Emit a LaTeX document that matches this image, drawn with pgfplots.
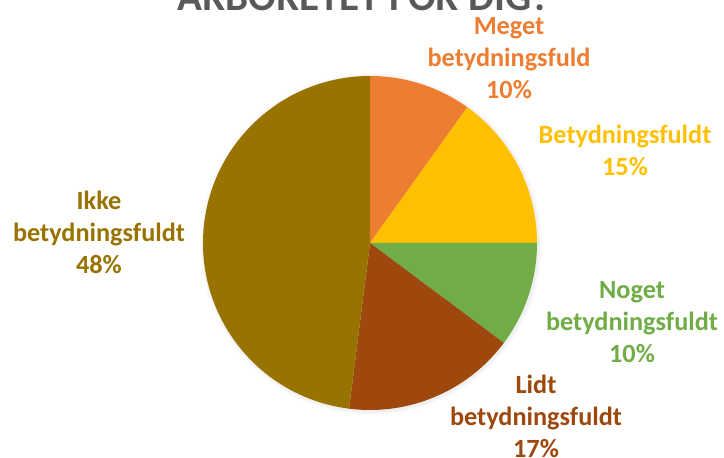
\documentclass[border=0pt]{standalone}
\usepackage{pgfplots}
\usepackage{pgfplotstable}
\pgfplotsset{compat=1.18}
\usepackage{fontspec}
\setmainfont{Carlito}
\definecolor{cA}{HTML}{ED7D31}
\definecolor{cB}{HTML}{FFC000}
\definecolor{cC}{HTML}{70AD47}
\definecolor{cD}{HTML}{9E480E}
\definecolor{cE}{HTML}{997300}
\definecolor{ttl}{HTML}{595959}
\pgfplotstableread{
label value
Meget 9.9
Betydningsfuldt 15.1
Noget 10.2
Lidt 16.8
Ikke 48.0
}\piedata
\pgfplotstablegetelem{0}{value}\of\piedata \let\vA\pgfplotsretval
\pgfplotstablegetelem{1}{value}\of\piedata \let\vB\pgfplotsretval
\pgfplotstablegetelem{2}{value}\of\piedata \let\vC\pgfplotsretval
\pgfplotstablegetelem{3}{value}\of\piedata \let\vD\pgfplotsretval
\pgfplotstablegetelem{4}{value}\of\piedata \let\vE\pgfplotsretval
\pgfmathsetmacro\aA{90-3.6*\vA}
\pgfmathsetmacro\aB{\aA-3.6*\vB}
\pgfmathsetmacro\aC{\aB-3.6*\vC}
\pgfmathsetmacro\aD{\aC-3.6*\vD}
\pgfmathsetmacro\aE{\aD-3.6*\vE}
\def\R{125.25pt}
\begin{document}
\begin{tikzpicture}
\begin{axis}[x=0.75pt, y=0.75pt, xmin=0, xmax=724, ymin=0, ymax=457,
  hide axis, clip=false, anchor=origin, at={(0,0)}]
\fill[white] (axis cs:0,0) rectangle (axis cs:724,457);
\fill[black, opacity=0.025] (axis cs:371,213) circle[radius=128pt];
\fill[black, opacity=0.035] (axis cs:371,213) circle[radius=126.5pt];
\fill[cA] (axis cs:370,214) -- ++(90:\R) arc[start angle=90, end angle=\aA, radius=\R] -- cycle;
\fill[cB] (axis cs:370,214) -- ++(\aA:\R) arc[start angle=\aA, end angle=\aB, radius=\R] -- cycle;
\fill[cC] (axis cs:370,214) -- ++(\aB:\R) arc[start angle=\aB, end angle=\aC, radius=\R] -- cycle;
\fill[cD] (axis cs:370,214) -- ++(\aC:\R) arc[start angle=\aC, end angle=\aD, radius=\R] -- cycle;
\fill[cE] (axis cs:370,214) -- ++(\aD:\R) arc[start angle=\aD, end angle=\aE, radius=\R] -- cycle;
\node[anchor=base, text=ttl, font=\bfseries\fontsize{30.8}{36}\selectfont] at (axis cs:364,446) {ARBORETET FOR DIG?};
\tikzset{lbl/.style={align=center, font=\bfseries\fontsize{19.7}{24}\selectfont}}
\node[lbl, text=cA] at (axis cs:509,399) {Meget\\betydningsfuld\\10\%};
\node[lbl, text=cB] at (axis cs:625,307) {Betydningsfuldt\\15\%};
\node[lbl, text=cC] at (axis cs:632,135) {Noget\\betydningsfuldt\\10\%};
\node[lbl, text=cD] at (axis cs:536,41) {Lidt\\betydningsfuldt\\17\%};
\node[lbl, text=cE] at (axis cs:99,225) {Ikke\\betydningsfuldt\\48\%};
\end{axis}
\pgfresetboundingbox
\path[use as bounding box] (0,0) rectangle (543pt,342.75pt);
\end{tikzpicture}
\end{document}
